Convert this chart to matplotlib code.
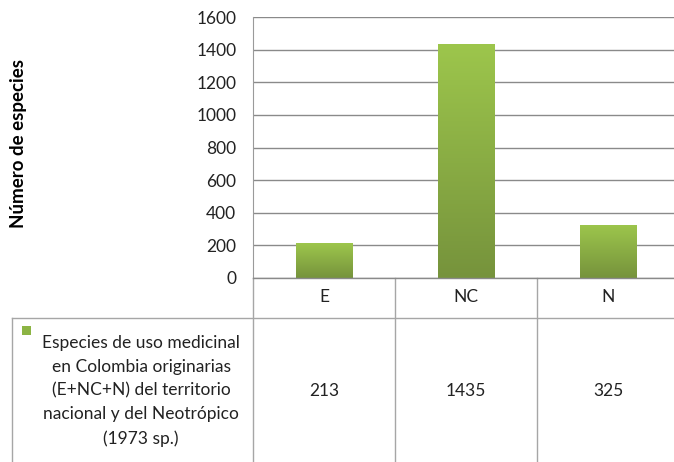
import numpy as np
import matplotlib.pyplot as plt
from matplotlib.colors import LinearSegmentedColormap

categories = ['E', 'NC', 'N']
values = [213, 1435, 325]
series_label = ('Especies de uso medicinal\nen Colombia originarias\n'
                '(E+NC+N) del territorio\nnacional y del Neotrópico\n(1973 sp.)')
y_ticks = [0, 200, 400, 600, 800, 1000, 1200, 1400, 1600]

plt.rcParams['font.family'] = ['Lato', 'DejaVu Sans']

W, H = 674, 462
fig = plt.figure(figsize=(W / 100, H / 100), dpi=100)
# plot area: x 253..679 px, y 17..278 px
ax = fig.add_axes([253 / W, 1 - 278 / H, 426 / W, 261 / H])

x = np.arange(len(categories))
bars = ax.bar(x, values, width=0.4, color='none', zorder=3)

green = LinearSegmentedColormap.from_list('g', ['#76933c', '#9dc64c'])
grad = np.linspace(0, 1, 256).reshape(-1, 1)
for b in bars:
    x0, y0 = b.get_x(), b.get_y()
    im = ax.imshow(grad, cmap=green, origin='lower', aspect='auto',
                   extent=[x0, x0 + b.get_width(), y0, y0 + b.get_height()],
                   zorder=3)
    im.set_clip_path(b)

ax.set_xlim(-0.5, len(categories) - 0.5)
ax.set_ylim(0, 1600)
ax.set_yticks(y_ticks)
ax.set_yticklabels([str(t) for t in y_ticks], fontsize=12.5, color='#222222')
ax.tick_params(axis='y', length=0, pad=12)
ax.set_xticks([])
ax.grid(axis='y', color='#8a8a8a', linewidth=1.0, zorder=0)
for s in ['top', 'right', 'bottom']:
    ax.spines[s].set_visible(False)
ax.spines['left'].set_color('#9a9a9a')
ax.spines['left'].set_bounds(0, 1600)

fig.text(19 / W, 1 - 143 / H, 'Número de especies', rotation=90,
         fontsize=13.5, fontweight='bold', ha='center', va='center')

# data table below the plot
tr = ax.get_xaxis_transform()
px = 261.0  # axes height in px
row1 = -40 / px
bottom = -190 / px
line_kw = dict(transform=tr, color='#a6a6a6', linewidth=1.0, clip_on=False)
ax.plot([-0.5, len(categories) - 0.5], [0, 0], color='#8a8a8a',
        linewidth=1.0, transform=tr, clip_on=False, zorder=4)
left_px = (12 - 253) / 142.0 - 0.5
ax.plot([left_px, len(categories) - 0.5], [row1, row1], **line_kw)
ax.plot([left_px, left_px], [row1, bottom], **line_kw)
for i in range(len(categories)):
    ax.plot([i - 0.5, i - 0.5], [0, bottom], **line_kw)
for i, (c, v) in enumerate(zip(categories, values)):
    ax.text(i, -19 / px, c, transform=tr, ha='center', va='center',
            fontsize=12.5, color='#222222', clip_on=False)
    ax.text(i, -113 / px, str(v), transform=tr, ha='center', va='center',
            fontsize=12.5, color='#222222', clip_on=False)

ax.text((141 - 253) / 142.0 - 0.5, -113 / px, series_label, transform=tr,
        ha='center', va='center', fontsize=12.5, color='#222222',
        linespacing=1.58, multialignment='center', clip_on=False)
fig.patches.append(plt.Rectangle((22 / W, 1 - 335 / H), 9 / W, 9 / H,
                                 transform=fig.transFigure,
                                 facecolor='#8cb444', edgecolor='none'))

fig.savefig('out.png', dpi=100)
